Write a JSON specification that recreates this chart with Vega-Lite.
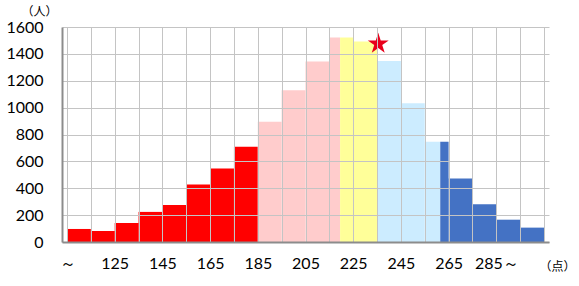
{
  "$schema": "https://vega.github.io/schema/vega-lite/v6.json",
  "width": 487,
  "height": 215,
  "autosize": {"type": "none"},
  "padding": {"left": 62, "top": 27, "right": 30, "bottom": 44},
  "background": "white",
  "config": {
    "view": {"stroke": null},
    "font": "Lato"
  },
  "datasets": {
    "bins": [
      {"start": 105, "end": 115, "count": 97, "group": "red"},
      {"start": 115, "end": 125, "count": 82, "group": "red"},
      {"start": 125, "end": 135, "count": 142, "group": "red"},
      {"start": 135, "end": 145, "count": 224, "group": "red"},
      {"start": 145, "end": 155, "count": 276, "group": "red"},
      {"start": 155, "end": 165, "count": 428, "group": "red"},
      {"start": 165, "end": 175, "count": 547, "group": "red"},
      {"start": 175, "end": 185, "count": 709, "group": "red"},
      {"start": 185, "end": 195, "count": 895, "group": "pink"},
      {"start": 195, "end": 205, "count": 1129, "group": "pink"},
      {"start": 205, "end": 215, "count": 1343, "group": "pink"},
      {"start": 215, "end": 219.5, "count": 1522, "group": "pink"},
      {"start": 219.5, "end": 225, "count": 1522, "group": "yellow"},
      {"start": 225, "end": 235, "count": 1492, "group": "yellow"},
      {"start": 235, "end": 245, "count": 1347, "group": "lightblue"},
      {"start": 245, "end": 255, "count": 1032, "group": "lightblue"},
      {"start": 255, "end": 261.5, "count": 746, "group": "lightblue"},
      {"start": 261.5, "end": 265, "count": 746, "group": "darkblue"},
      {"start": 265, "end": 275, "count": 472, "group": "darkblue"},
      {"start": 275, "end": 285, "count": 281, "group": "darkblue"},
      {"start": 285, "end": 295, "count": 166, "group": "darkblue"},
      {"start": 295, "end": 305, "count": 107, "group": "darkblue"}
    ],
    "star": [{"start": 235.5, "count": 1475}]
  },
  "encoding": {
    "x": {
      "field": "start", "type": "quantitative",
      "scale": {"domain": [105, 305], "nice": false, "zero": false},
      "axis": {
        "values": [105,115,125,135,145,155,165,175,185,195,205,215,225,235,245,255,265,275,285,295,305],
        "labelExpr": "datum.value == 105 ? '～' : datum.value == 285 ? '285～' : ((datum.value - 105) % 20 == 0 && datum.value < 285 ? datum.label : '')",
        "format": "d",
        "grid": true, "gridColor": "#C4C4C4", "gridWidth": 1,
        "domainColor": "#8C8C8C", "domainWidth": 2,
        "ticks": false, "labelPadding": 13,
        "labelFontSize": 16, "labelColor": "#000000", "labelFont": "Lato",
        "labelFlush": false, "labelOverlap": false, "labelBound": false, "labelDx": 2,
        "title": "（点）", "titleX": 495, "titleY": 24, "titleAlign": "center", "titleBaseline": "middle",
        "titleFontSize": 12, "titleFontWeight": "normal", "titleColor": "#000000", "titleFont": "Noto Sans CJK JP",
        "zindex": 1
      }
    },
    "y": {
      "field": "count", "type": "quantitative",
      "scale": {"domain": [0, 1600], "nice": false},
      "axis": {
        "values": [0,200,400,600,800,1000,1200,1400,1600],
        "format": "d",
        "grid": true, "gridColor": "#C4C4C4", "gridWidth": 1,
        "domainColor": "#8C8C8C", "domainWidth": 2,
        "ticks": false, "labelPadding": 19,
        "labelFontSize": 16, "labelColor": "#000000", "labelFont": "Lato",
        "labelFlush": false, "labelOverlap": false, "labelBound": false,
        "title": "（人）", "titleAngle": 0, "titleX": -23, "titleY": -16, "titleAlign": "center", "titleBaseline": "middle",
        "titleFontSize": 12, "titleFontWeight": "normal", "titleColor": "#000000", "titleFont": "Noto Sans CJK JP",
        "zindex": 1
      }
    }
  },
  "layer": [
    {
      "data": {"name": "bins"},
      "mark": {"type": "bar", "orient": "vertical"},
      "encoding": {
        "x2": {"field": "end"},
        "y2": {"datum": 0},
        "color": {
          "field": "group", "type": "nominal",
          "scale": {
            "domain": ["red", "pink", "yellow", "lightblue", "darkblue"],
            "range": ["#FF0000", "#FFCCCC", "#FFFF99", "#CCECFF", "#4472C4"]
          },
          "legend": null
        }
      }
    },
    {
      "data": {"name": "star"},
      "mark": {"type": "point", "shape": "M0,-1L0.225,-0.309L0.951,-0.309L0.363,0.118L0.588,0.809L0,0.382L-0.588,0.809L-0.363,0.118L-0.951,-0.309L-0.225,-0.309Z", "filled": true, "color": "#E8001C", "size": 484, "opacity": 1, "zindex": 2}
    }
  ]
}
